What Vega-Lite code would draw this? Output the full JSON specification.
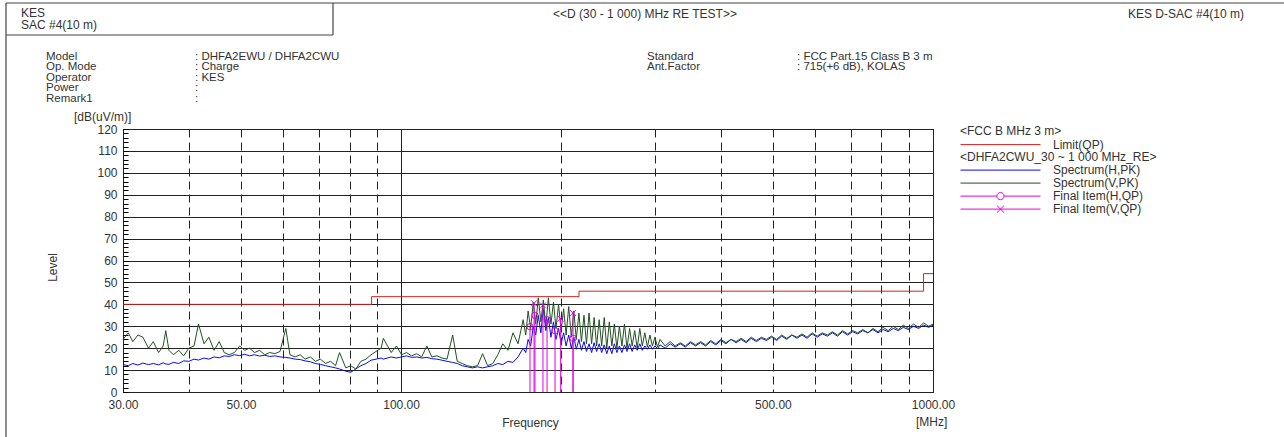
{
  "$schema": "https://vega.github.io/schema/vega-lite/v6.json",
  "width": 810,
  "height": 263,
  "autosize": {"type": "none"},
  "padding": {"left": 123, "top": 129, "right": 351, "bottom": 45},
  "background": "white",
  "config": {
    "view": {"stroke": "#000", "strokeWidth": 1},
    "font": "Liberation Sans",
    "axis": {"labelFont": "Liberation Sans", "labelFontSize": 12, "labelColor": "#333", "titleFont": "Liberation Sans", "titleFontSize": 12, "titleFontWeight": "normal", "titleColor": "#333"},
    "legend": {"labelFont": "Liberation Sans", "labelFontSize": 12, "labelColor": "#333", "titleFont": "Liberation Sans", "titleFontSize": 12, "titleFontWeight": "normal", "titleColor": "#333", "titlePadding": 1, "titleLimit": 400, "labelLimit": 300, "symbolSize": 6400, "symbolStrokeWidth": 1, "clipHeight": 11.2, "rowPadding": 0, "padding": 0, "labelOffset": 12}
  },
  "datasets": {
    "limit": [{"f": 30, "v": 40, "s": "Limit(QP)"}, {"f": 88, "v": 43.5, "s": "Limit(QP)"}, {"f": 216, "v": 46, "s": "Limit(QP)"}, {"f": 960, "v": 54, "s": "Limit(QP)"}, {"f": 1000, "v": 54, "s": "Limit(QP)"}],
    "spec": [
      {"f": 30, "h": 12.5, "v": 24}, {"f": 30.7, "h": 12.0, "v": 27}, {"f": 31.3, "h": 13.0, "v": 23}, {"f": 32.0, "h": 12.3, "v": 26},
      {"f": 32.7, "h": 13.2, "v": 25}, {"f": 33.5, "h": 12.5, "v": 20}, {"f": 34.2, "h": 13.0, "v": 23}, {"f": 35.0, "h": 12.4, "v": 18},
      {"f": 35.7, "h": 13.3, "v": 21}, {"f": 36.1, "h": 12.8, "v": 28}, {"f": 36.6, "h": 12.6, "v": 19}, {"f": 37.3, "h": 13.5, "v": 17},
      {"f": 38.2, "h": 13.0, "v": 19}, {"f": 39.0, "h": 14.2, "v": 16.5}, {"f": 39.9, "h": 14.0, "v": 20}, {"f": 40.8, "h": 15.0, "v": 21},
      {"f": 41.6, "h": 14.6, "v": 31}, {"f": 42.6, "h": 15.5, "v": 22}, {"f": 43.5, "h": 15.0, "v": 25}, {"f": 44.5, "h": 16.0, "v": 19},
      {"f": 45.5, "h": 15.6, "v": 23}, {"f": 46.5, "h": 16.5, "v": 18}, {"f": 47.5, "h": 16.2, "v": 17}, {"f": 48.6, "h": 17.0, "v": 18},
      {"f": 49.7, "h": 16.6, "v": 21}, {"f": 50.8, "h": 17.2, "v": 19}, {"f": 51.9, "h": 16.5, "v": 20}, {"f": 53.0, "h": 17.0, "v": 18},
      {"f": 54.2, "h": 16.4, "v": 19}, {"f": 55.4, "h": 16.8, "v": 17}, {"f": 56.6, "h": 16.2, "v": 18}, {"f": 57.9, "h": 16.5, "v": 17.5},
      {"f": 59.2, "h": 16.0, "v": 18.5}, {"f": 60.7, "h": 15.8, "v": 29}, {"f": 61.8, "h": 15.5, "v": 17}, {"f": 63.2, "h": 15.0, "v": 16},
      {"f": 64.6, "h": 14.8, "v": 17}, {"f": 66.0, "h": 14.2, "v": 15}, {"f": 67.5, "h": 13.8, "v": 16}, {"f": 69.0, "h": 13.0, "v": 14},
      {"f": 70.5, "h": 12.6, "v": 15}, {"f": 72.1, "h": 12.0, "v": 13}, {"f": 73.7, "h": 11.5, "v": 14}, {"f": 75.3, "h": 11.0, "v": 12},
      {"f": 76.6, "h": 10.5, "v": 18}, {"f": 78.7, "h": 9.5, "v": 11}, {"f": 80.4, "h": 9.0, "v": 12}, {"f": 82.2, "h": 10.5, "v": 10.5},
      {"f": 84.0, "h": 12.0, "v": 14}, {"f": 85.9, "h": 13.0, "v": 15}, {"f": 87.8, "h": 14.5, "v": 17}, {"f": 89.7, "h": 15.0, "v": 18.5},
      {"f": 91.7, "h": 15.5, "v": 20}, {"f": 92.6, "h": 15.0, "v": 24.5}, {"f": 95.8, "h": 16.0, "v": 18}, {"f": 98.0, "h": 15.5, "v": 21},
      {"f": 100.2, "h": 16.0, "v": 17}, {"f": 102.4, "h": 16.5, "v": 18}, {"f": 104.6, "h": 15.8, "v": 16.5}, {"f": 107.0, "h": 16.0, "v": 17.5},
      {"f": 109.3, "h": 15.5, "v": 16}, {"f": 111.8, "h": 15.8, "v": 21}, {"f": 114.2, "h": 15.2, "v": 16}, {"f": 116.8, "h": 15.0, "v": 16.5},
      {"f": 119.4, "h": 14.5, "v": 15.5}, {"f": 122.0, "h": 14.0, "v": 15}, {"f": 125.0, "h": 13.5, "v": 26}, {"f": 127.5, "h": 13.0, "v": 14},
      {"f": 130.3, "h": 12.0, "v": 13}, {"f": 133.2, "h": 11.5, "v": 12}, {"f": 136.2, "h": 11.0, "v": 11.5}, {"f": 139.2, "h": 11.5, "v": 12},
      {"f": 142.3, "h": 11.0, "v": 17.5}, {"f": 145.4, "h": 11.5, "v": 12}, {"f": 148.7, "h": 12.0, "v": 13}, {"f": 152.0, "h": 13.0, "v": 17},
      {"f": 155.3, "h": 12.5, "v": 22}, {"f": 158.8, "h": 14.0, "v": 19}, {"f": 162.3, "h": 13.5, "v": 27}, {"f": 165.9, "h": 16.0, "v": 22},
      {"f": 169.6, "h": 20.0, "v": 33}, {"f": 171.5, "h": 18.0, "v": 26}, {"f": 173.3, "h": 24.0, "v": 37}, {"f": 175.2, "h": 21.0, "v": 29},
      {"f": 177.2, "h": 30.0, "v": 41}, {"f": 179.1, "h": 26.0, "v": 31}, {"f": 181.1, "h": 35.0, "v": 43}, {"f": 183.1, "h": 27.0, "v": 32},
      {"f": 185.1, "h": 38.0, "v": 42}, {"f": 187.1, "h": 28.0, "v": 30}, {"f": 189.2, "h": 34.0, "v": 43}, {"f": 191.3, "h": 25.0, "v": 31},
      {"f": 193.4, "h": 32.0, "v": 41}, {"f": 195.5, "h": 24.0, "v": 29}, {"f": 197.7, "h": 29.0, "v": 40}, {"f": 199.9, "h": 22.0, "v": 28},
      {"f": 202.1, "h": 27.0, "v": 38}, {"f": 204.3, "h": 21.0, "v": 26}, {"f": 206.6, "h": 26.0, "v": 39}, {"f": 208.9, "h": 20.0, "v": 25},
      {"f": 211.2, "h": 25.0, "v": 37}, {"f": 213.5, "h": 19.5, "v": 24}, {"f": 215.9, "h": 24.0, "v": 36}, {"f": 218.3, "h": 19.0, "v": 23},
      {"f": 220.7, "h": 23.0, "v": 35}, {"f": 223.1, "h": 18.5, "v": 22}, {"f": 225.6, "h": 22.0, "v": 36}, {"f": 228.1, "h": 18.0, "v": 22},
      {"f": 230.6, "h": 22.5, "v": 34}, {"f": 233.1, "h": 18.5, "v": 21}, {"f": 235.7, "h": 22.0, "v": 33}, {"f": 238.3, "h": 18.0, "v": 21},
      {"f": 240.9, "h": 21.5, "v": 34}, {"f": 243.6, "h": 17.5, "v": 20}, {"f": 246.3, "h": 21.0, "v": 32}, {"f": 249.0, "h": 17.5, "v": 21},
      {"f": 251.7, "h": 22.0, "v": 31}, {"f": 254.5, "h": 18.0, "v": 20}, {"f": 257.3, "h": 21.0, "v": 30}, {"f": 260.1, "h": 18.0, "v": 21},
      {"f": 263.0, "h": 21.5, "v": 31}, {"f": 265.9, "h": 18.5, "v": 20}, {"f": 268.9, "h": 22.0, "v": 29}, {"f": 271.9, "h": 18.5, "v": 21},
      {"f": 274.9, "h": 21.5, "v": 28}, {"f": 277.9, "h": 19.0, "v": 20}, {"f": 281.0, "h": 22.0, "v": 29}, {"f": 284.1, "h": 19.0, "v": 21},
      {"f": 287.2, "h": 21.0, "v": 27}, {"f": 290.4, "h": 19.5, "v": 20.5}, {"f": 293.6, "h": 21.5, "v": 26}, {"f": 296.8, "h": 19.5, "v": 21},
      {"f": 300.1, "h": 21.0, "v": 25}, {"f": 303.4, "h": 19.8, "v": 20.5}, {"f": 306.8, "h": 21.5, "v": 24}, {"f": 313.6, "h": 20.0, "v": 21},
      {"f": 320.5, "h": 22.0, "v": 23}, {"f": 327.6, "h": 20.5, "v": 21}, {"f": 334.9, "h": 22.0, "v": 22.5}, {"f": 342.3, "h": 20.5, "v": 21},
      {"f": 349.9, "h": 22.5, "v": 23}, {"f": 357.7, "h": 21.0, "v": 21.5}, {"f": 365.6, "h": 22.5, "v": 23}, {"f": 373.7, "h": 21.0, "v": 21.5},
      {"f": 382.0, "h": 23.0, "v": 23.5}, {"f": 390.5, "h": 21.5, "v": 22}, {"f": 399.2, "h": 23.5, "v": 24}, {"f": 408.0, "h": 22.0, "v": 22.5},
      {"f": 417.1, "h": 24.0, "v": 24}, {"f": 426.3, "h": 22.5, "v": 23}, {"f": 435.8, "h": 24.0, "v": 24.5}, {"f": 445.4, "h": 22.5, "v": 23},
      {"f": 455.3, "h": 24.5, "v": 25}, {"f": 465.4, "h": 23.0, "v": 23.5}, {"f": 475.8, "h": 24.5, "v": 25}, {"f": 486.3, "h": 23.5, "v": 24},
      {"f": 497.1, "h": 25.0, "v": 25.5}, {"f": 508.2, "h": 23.5, "v": 24}, {"f": 519.4, "h": 25.5, "v": 26}, {"f": 531.0, "h": 24.0, "v": 24.5},
      {"f": 542.7, "h": 26.0, "v": 26}, {"f": 554.8, "h": 24.5, "v": 25}, {"f": 567.1, "h": 26.0, "v": 26.5}, {"f": 579.7, "h": 24.5, "v": 25},
      {"f": 592.5, "h": 26.5, "v": 27}, {"f": 605.7, "h": 25.0, "v": 25.5}, {"f": 619.1, "h": 26.5, "v": 27}, {"f": 632.9, "h": 25.5, "v": 26},
      {"f": 646.9, "h": 27.0, "v": 27.5}, {"f": 661.3, "h": 25.5, "v": 26}, {"f": 675.9, "h": 27.5, "v": 28}, {"f": 690.9, "h": 26.0, "v": 26.5},
      {"f": 706.3, "h": 27.5, "v": 28}, {"f": 721.9, "h": 26.5, "v": 27}, {"f": 737.9, "h": 28.0, "v": 28.5}, {"f": 754.3, "h": 27.0, "v": 27},
      {"f": 771.0, "h": 28.5, "v": 29}, {"f": 788.1, "h": 27.0, "v": 27.5}, {"f": 805.6, "h": 28.5, "v": 29.5}, {"f": 823.5, "h": 27.5, "v": 28},
      {"f": 841.8, "h": 29.0, "v": 30}, {"f": 860.5, "h": 28.0, "v": 28.5}, {"f": 879.6, "h": 29.5, "v": 30.5}, {"f": 899.1, "h": 28.5, "v": 29},
      {"f": 919.0, "h": 30.0, "v": 31}, {"f": 939.4, "h": 29.0, "v": 29.5}, {"f": 960.3, "h": 30.5, "v": 31.5}, {"f": 981.6, "h": 29.5, "v": 30},
      {"f": 1000, "h": 30.5, "v": 31}
    ],
    "fin": [
      {"f": 174.7, "v": 29.8, "z": 0, "s": "fh"},
      {"f": 178.5, "v": 35.0, "z": 0, "s": "fh"},
      {"f": 188.1, "v": 33.0, "z": 0, "s": "fh"},
      {"f": 194.7, "v": 28.0, "z": 0, "s": "fh"},
      {"f": 210.5, "v": 24.5, "z": 0, "s": "fh"},
      {"f": 177.8, "v": 40.5, "z": 0, "s": "fv"},
      {"f": 184.8, "v": 39.5, "z": 0, "s": "fv"},
      {"f": 199.5, "v": 33.5, "z": 0, "s": "fv"},
      {"f": 210.5, "v": 36.0, "z": 0, "s": "fv"}
    ],
    "hdr": [
      {"t": "KES", "c": 1, "r": 1},
      {"t": "SAC #4(10 m)", "c": 1, "r": 3},
      {"t": "KES D-SAC #4(10 m)", "c": 10, "r": 2},
      {"t": "[dB(uV/m)]", "c": 3, "r": 10},
      {"t": "[MHz]", "c": 9, "r": 11}
    ],
    "info": [
      {"t": "Model", "c": 2, "r": 5},
      {"t": "Op. Mode", "c": 2, "r": 6},
      {"t": "Operator", "c": 2, "r": 7},
      {"t": "Power", "c": 2, "r": 8},
      {"t": "Remark1", "c": 2, "r": 9},
      {"t": ": DHFA2EWU / DHFA2CWU", "c": 4, "r": 5},
      {"t": ": Charge", "c": 4, "r": 6},
      {"t": ": KES", "c": 4, "r": 7},
      {"t": ":", "c": 4, "r": 8},
      {"t": ":", "c": 4, "r": 9},
      {"t": "Standard", "c": 7, "r": 5},
      {"t": "Ant.Factor", "c": 7, "r": 6},
      {"t": ": FCC Part.15 Class B 3 m", "c": 8, "r": 5},
      {"t": ": 715(+6 dB), KOLAS", "c": 8, "r": 6}
    ],
    "ttl": [{"t": "<<D (30 - 1 000) MHz RE TEST>>", "c": 6, "r": 2}],
    "frm": [
      {"x": 0, "x2": 11, "y": 0, "y2": 0},
      {"x": 0, "x2": 0, "y": 0, "y2": 12},
      {"x": 5, "x2": 5, "y": 0, "y2": 4},
      {"x": 0, "x2": 5, "y": 4, "y2": 4}
    ]
  },
  "layer": [
    {
      "data": {"name": "limit"},
      "mark": {"type": "line", "interpolate": "step-after", "strokeWidth": 1},
      "encoding": {
        "x": {
          "field": "f", "type": "quantitative",
          "scale": {"type": "log", "domain": [30, 1000], "nice": false},
          "axis": {
            "orient": "bottom",
            "values": [40, 50, 60, 70, 80, 90, 200, 300, 400, 500, 600, 700, 800, 900],
            "labelExpr": "(datum.value == 50 || datum.value == 500) ? format(datum.value, '.2f') : ''",
            "ticks": false, "domain": false, "labelPadding": 7, "labelFlush": false, "labelOverlap": false, "labelBound": false,
            "grid": true, "gridColor": "#222", "gridWidth": 1, "gridDash": [8, 5],
            "title": "Frequency", "titleX": 407, "titleY": 30, "titleBaseline": "middle", "titleAlign": "center"
          }
        },
        "y": {
          "field": "v", "type": "quantitative",
          "scale": {"domain": [0, 120], "nice": false, "zero": false},
          "axis": {
            "orient": "left",
            "values": [0, 10, 20, 30, 40, 50, 60, 70, 80, 90, 100, 110, 120],
            "labelPadding": 6, "labelFlush": false, "labelOverlap": false,
            "ticks": false, "domain": false,
            "grid": true, "gridColor": "#222", "gridWidth": 1,
            "title": "Level", "titleX": -71, "titleY": 138, "titleAngle": -90, "titleBaseline": "middle", "titleAlign": "center"
          }
        },
        "stroke": {
          "field": "s", "type": "nominal",
          "scale": {"domain": ["Limit(QP)"], "range": ["#d42020"]},
          "legend": {"orient": "none", "legendX": 837, "legendY": -3, "title": "<FCC B MHz 3 m>", "symbolType": "stroke"}
        }
      }
    },
    {
      "data": {"name": "spec"},
      "transform": [{"fold": ["h", "v"], "as": ["s", "val"]}],
      "mark": {"type": "line", "strokeWidth": 1},
      "encoding": {
        "x": {
          "field": "f", "type": "quantitative", "scale": {"type": "log", "domain": [30, 1000], "nice": false},
          "axis": {"orient": "bottom", "values": [30, 100, 1000], "format": ".2f", "ticks": false, "domain": false, "labelPadding": 7, "labelFlush": false, "labelOverlap": false, "labelBound": false, "grid": true, "gridColor": "#222", "gridWidth": 1, "title": null}
        },
        "y": {
          "field": "val", "type": "quantitative", "scale": {"domain": [0, 120], "nice": false, "zero": false},
          "axis": {"orient": "left", "values": [0, 2, 4, 6, 8, 10, 12, 14, 16, 18, 20, 22, 24, 26, 28, 30, 32, 34, 36, 38, 40, 42, 44, 46, 48, 50, 52, 54, 56, 58, 60, 62, 64, 66, 68, 70, 72, 74, 76, 78, 80, 82, 84, 86, 88, 90, 92, 94, 96, 98, 100, 102, 104, 106, 108, 110, 112, 114, 116, 118, 120], "labels": false, "ticks": true, "tickSize": -5, "tickColor": "#000", "tickWidth": 1, "domain": false, "grid": false, "title": null}
        },
        "color": {
          "field": "s", "type": "nominal",
          "scale": {"domain": ["h", "v", "fh", "fv"], "range": ["#0a0af0", "#1f521f", "#e600e6", "#e600e6"]},
          "legend": {
            "orient": "none", "legendX": 837, "legendY": 22.5,
            "title": "<DHFA2CWU_30 ~ 1 000 MHz_RE>",
            "labelExpr": "datum.value == 'h' ? 'Spectrum(H,PK)' : (datum.value == 'v' ? 'Spectrum(V,PK)' : (datum.value == 'fh' ? 'Final Item(H,QP)' : 'Final Item(V,QP)'))",
            "encode": {"symbols": {"update": {
              "shape": {"signal": "datum.value == 'fh' ? 'M-1,0L-0.09,0M0.09,0L1,0M0.09,0A0.09,0.09,0,1,1,-0.09,0A0.09,0.09,0,1,1,0.09,0' : (datum.value == 'fv' ? 'M-1,0L1,0M-0.09,-0.09L0.09,0.09M-0.09,0.09L0.09,-0.09' : 'stroke')"},
              "fill": {"value": "transparent"}
            }}}
          }
        }
      }
    },
    {
      "data": {"name": "fin"},
      "mark": {"type": "rule", "strokeWidth": 1},
      "encoding": {
        "x": {"field": "f", "type": "quantitative", "scale": {"type": "log", "domain": [30, 1000], "nice": false}, "axis": null},
        "y": {"field": "v", "type": "quantitative", "scale": {"domain": [0, 120], "nice": false, "zero": false}, "axis": null},
        "y2": {"field": "z"},
        "color": {"field": "s", "type": "nominal"}
      }
    },
    {
      "data": {"name": "fin"},
      "transform": [{"filter": "datum.s == 'fh'"}],
      "mark": {"type": "point", "shape": "circle", "filled": false, "size": 40, "strokeWidth": 1, "opacity": 1},
      "encoding": {
        "x": {"field": "f", "type": "quantitative", "scale": {"type": "log", "domain": [30, 1000], "nice": false}, "axis": null},
        "y": {"field": "v", "type": "quantitative", "scale": {"domain": [0, 120], "nice": false, "zero": false}, "axis": null},
        "color": {"field": "s", "type": "nominal"}
      }
    },
    {
      "data": {"name": "fin"},
      "transform": [{"filter": "datum.s == 'fv'"}],
      "mark": {"type": "point", "shape": "M-1,-1L1,1M-1,1L1,-1", "filled": false, "size": 36, "strokeWidth": 1, "opacity": 1},
      "encoding": {
        "x": {"field": "f", "type": "quantitative", "scale": {"type": "log", "domain": [30, 1000], "nice": false}, "axis": null},
        "y": {"field": "v", "type": "quantitative", "scale": {"domain": [0, 120], "nice": false, "zero": false}, "axis": null},
        "color": {"field": "s", "type": "nominal"}
      }
    },
    {
      "data": {"name": "frm"},
      "mark": {"type": "rule", "stroke": "#444", "strokeWidth": 1.2},
      "encoding": {
        "x": {"field": "x", "type": "quantitative", "scale": {"domain": [0, 1, 2, 3, 4, 5, 6, 7, 8, 9, 10, 11], "range": [-117, -102, -77, -49, 72, 210, 522, 524, 674, 793, 1005, 1161], "zero": false, "nice": false}, "axis": null},
        "x2": {"field": "x2"},
        "y": {"field": "y", "type": "quantitative", "scale": {"domain": [0, 1, 2, 3, 4, 5, 6, 7, 8, 9, 10, 11, 12], "range": [-126, -116.5, -115, -104.5, -94, -72.5, -62, -51.5, -41, -30.5, -12, 293, 308], "zero": false, "nice": false}, "axis": null},
        "y2": {"field": "y2"}
      }
    },
    {
      "data": {"name": "hdr"},
      "mark": {"type": "text", "align": "left", "baseline": "middle", "font": "Liberation Sans", "fontSize": 12, "fill": "#333"},
      "encoding": {
        "x": {"field": "c", "type": "quantitative", "scale": {"domain": [0, 1, 2, 3, 4, 5, 6, 7, 8, 9, 10, 11], "range": [-117, -102, -77, -49, 72, 210, 522, 524, 674, 793, 1005, 1161], "zero": false, "nice": false}, "axis": null},
        "y": {"field": "r", "type": "quantitative", "scale": {"domain": [0, 1, 2, 3, 4, 5, 6, 7, 8, 9, 10, 11, 12], "range": [-126, -116.5, -115, -104.5, -94, -72.5, -62, -51.5, -41, -30.5, -12, 293, 308], "zero": false, "nice": false}, "axis": null},
        "text": {"field": "t", "type": "nominal"}
      }
    },
    {
      "data": {"name": "info"},
      "mark": {"type": "text", "align": "left", "baseline": "middle", "font": "Liberation Sans", "fontSize": 11.5, "fill": "#333"},
      "encoding": {
        "x": {"field": "c", "type": "quantitative", "scale": {"domain": [0, 1, 2, 3, 4, 5, 6, 7, 8, 9, 10, 11], "range": [-117, -102, -77, -49, 72, 210, 522, 524, 674, 793, 1005, 1161], "zero": false, "nice": false}, "axis": null},
        "y": {"field": "r", "type": "quantitative", "scale": {"domain": [0, 1, 2, 3, 4, 5, 6, 7, 8, 9, 10, 11, 12], "range": [-126, -116.5, -115, -104.5, -94, -72.5, -62, -51.5, -41, -30.5, -12, 293, 308], "zero": false, "nice": false}, "axis": null},
        "text": {"field": "t", "type": "nominal"}
      }
    },
    {
      "data": {"name": "ttl"},
      "mark": {"type": "text", "align": "center", "baseline": "middle", "font": "Liberation Sans", "fontSize": 12, "fill": "#333"},
      "encoding": {
        "x": {"field": "c", "type": "quantitative", "scale": {"domain": [0, 1, 2, 3, 4, 5, 6, 7, 8, 9, 10, 11], "range": [-117, -102, -77, -49, 72, 210, 522, 524, 674, 793, 1005, 1161], "zero": false, "nice": false}, "axis": null},
        "y": {"field": "r", "type": "quantitative", "scale": {"domain": [0, 1, 2, 3, 4, 5, 6, 7, 8, 9, 10, 11, 12], "range": [-126, -116.5, -115, -104.5, -94, -72.5, -62, -51.5, -41, -30.5, -12, 293, 308], "zero": false, "nice": false}, "axis": null},
        "text": {"field": "t", "type": "nominal"}
      }
    }
  ],
  "resolve": {"scale": {"x": "independent", "y": "independent"}}
}
